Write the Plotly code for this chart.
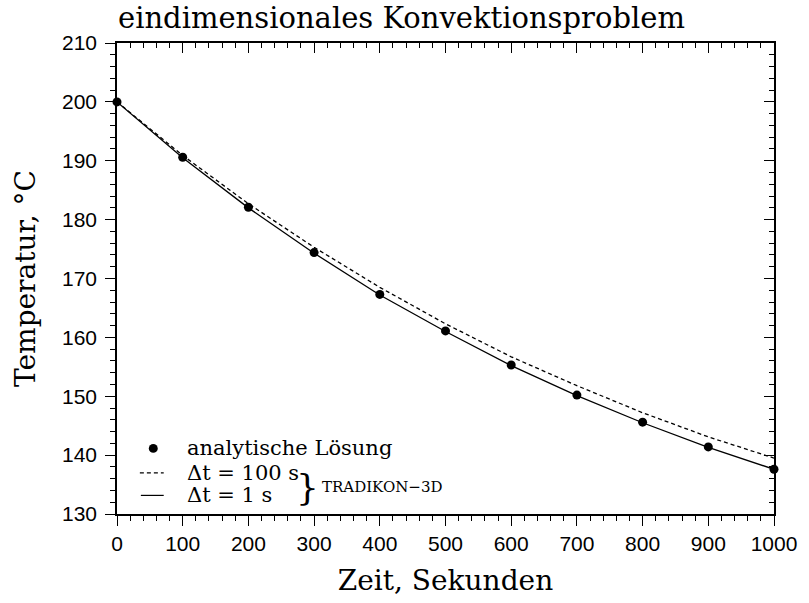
import plotly.graph_objects as go

# Zeitpunkte (s) und Temperaturen (°C)
zeit = [0, 100, 200, 300, 400, 500, 600, 700, 800, 900, 1000]
analytisch = [200.0, 190.6, 182.1, 174.4, 167.3, 161.1, 155.3, 150.2, 145.6, 141.4, 137.6]
dt_100s = [200.0, 190.9, 182.7, 175.3, 168.5, 162.3, 156.7, 151.8, 147.2, 143.1, 139.5]
dt_1s = [200.0, 190.5, 182.0, 174.3, 167.2, 161.0, 155.2, 150.1, 145.5, 141.3, 137.6]

x_ticks = list(range(0, 1001, 100))
y_ticks = list(range(130, 211, 10))

W, H = 809, 603
L, R, T, B = 117, 31, 43, 79
PW, PH = W - L - R, H - T - B

SERIF = "DejaVu Serif"
SANS = "Liberation Sans"


def px(xp):
    return (xp - L) / PW


def py(yp):
    return (H - B - yp) / PH


fig = go.Figure()

fig.add_trace(go.Scatter(x=zeit, y=dt_100s, mode="lines",
                         line=dict(color="black", width=1.3, dash="4px,3px"),
                         showlegend=False, hoverinfo="skip"))
fig.add_trace(go.Scatter(x=zeit, y=dt_1s, mode="lines",
                         line=dict(color="black", width=1.3),
                         showlegend=False, hoverinfo="skip"))
fig.add_trace(go.Scatter(x=zeit, y=analytisch, mode="markers",
                         marker=dict(color="black", size=9),
                         cliponaxis=False, showlegend=False))
# carrier for the mirrored top/right frame axes
fig.add_trace(go.Scatter(x=zeit, y=analytisch, xaxis="x2", yaxis="y2",
                         mode="markers", marker=dict(opacity=0),
                         showlegend=False, hoverinfo="skip"))

axis_common = dict(showgrid=False, zeroline=False, showline=True,
                   linecolor="black", linewidth=1.6,
                   tickcolor="black", tickwidth=1.3)

fig.update_layout(
    width=W, height=H,
    margin=dict(l=L, r=R, t=T, b=B),
    paper_bgcolor="white", plot_bgcolor="white",
    xaxis=dict(**axis_common, range=[0, 1000], tickvals=x_ticks,
               ticks="outside", ticklen=10,
               minor=dict(dtick=20, ticks="outside", ticklen=5,
                          tickcolor="black", tickwidth=1.1),
               tickfont=dict(family=SANS, size=21, color="black"),
               title=dict(text="Zeit, Sekunden", standoff=16,
                          font=dict(family=SERIF, size=28, color="black"))),
    yaxis=dict(**axis_common, range=[130, 210], tickvals=y_ticks,
               ticks="outside", ticklen=10,
               minor=dict(dtick=2, ticks="outside", ticklen=5,
                          tickcolor="black", tickwidth=1.1),
               tickfont=dict(family=SANS, size=21, color="black"),
               ticklabelstandoff=4,
               title=dict(text="Temperatur, °C", standoff=18,
                          font=dict(family=SERIF, size=28, color="black"))),
    xaxis2=dict(**axis_common, range=[0, 1000], overlaying="x", side="top",
                anchor="y2", tickvals=x_ticks, ticks="inside", ticklen=10,
                showticklabels=False,
                minor=dict(dtick=20, ticks="inside", ticklen=5,
                           tickcolor="black", tickwidth=1.1)),
    yaxis2=dict(**axis_common, range=[130, 210], overlaying="y", side="right",
                anchor="x2", tickvals=y_ticks, ticks="inside", ticklen=10,
                showticklabels=False,
                minor=dict(dtick=2, ticks="inside", ticklen=5,
                           tickcolor="black", tickwidth=1.1)),
)

# title
fig.add_annotation(text="eindimensionales Konvektionsproblem",
                   xref="paper", yref="paper", x=px(116), y=py(17),
                   xanchor="left", yanchor="middle", showarrow=False,
                   font=dict(family=SERIF, size=29, color="black"))

# hand-made legend
fig.add_shape(type="circle", xref="paper", yref="paper",
              x0=px(149), x1=px(158), y0=py(461.5), y1=py(452.5),
              fillcolor="black", line=dict(color="black", width=0))
fig.add_shape(type="line", xref="paper", yref="paper",
              x0=px(140), x1=px(164), y0=py(482), y1=py(482),
              line=dict(color="black", width=1.2, dash="4px,3px"))
fig.add_shape(type="line", xref="paper", yref="paper",
              x0=px(141), x1=px(164), y0=py(505), y1=py(505),
              line=dict(color="black", width=1.2))

legend_rows = [("analytische Lösung", 457), ("Δt = 100 s", 482), ("Δt = 1 s", 505)]
for txt, yp in legend_rows:
    fig.add_annotation(text=txt, xref="paper", yref="paper",
                       x=px(185), y=py(yp), xanchor="left", yanchor="middle",
                       showarrow=False,
                       font=dict(family=SERIF, size=21, color="black"))

fig.add_annotation(text="}", xref="paper", yref="paper",
                   x=px(309), y=py(497), xanchor="center", yanchor="middle",
                   showarrow=False, borderpad=0,
                   font=dict(family=SERIF, size=36, color="black"))
fig.add_annotation(text="TRADIKON−3D", xref="paper", yref="paper",
                   x=px(322), y=py(496), xanchor="left", yanchor="middle",
                   showarrow=False, borderpad=0,
                   font=dict(family=SERIF, size=15, color="black"))

fig.write_html("out.html")
